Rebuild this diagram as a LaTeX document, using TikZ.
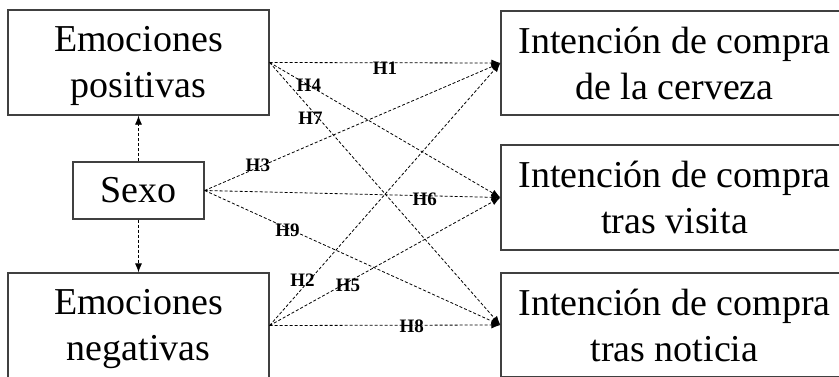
\documentclass[tikz,border=0pt]{standalone}
\usepackage{fontspec}
\setmainfont{Liberation Serif}
\usetikzlibrary{arrows.meta}
\begin{document}
\begin{tikzpicture}[x=1pt,y=-1pt,
  box/.style={draw=black!75, line width=1.3pt, align=center, inner sep=0pt,
    font=\fontsize{38}{46}\selectfont},
  link/.style={dashed, dash pattern=on 3pt off 2pt, line width=0.8pt,
    -{Latex[length=9pt,width=7pt]}},
  hyp/.style={font=\fontsize{19}{19}\bfseries\selectfont, inner sep=0pt}]
\useasboundingbox (0,0) rectangle (839,376);
\clip (0,0) rectangle (839,376);
\fill[white] (0,0) rectangle (839,376);

% predictors
\node[box, minimum width=261pt, minimum height=105pt] (ep) at (138.5,62.5) {\rule{0pt}{33pt}Emociones\\positivas};
\node[box, minimum width=131pt, minimum height=57pt] (sx) at (138.5,190.5) {Sexo};
\node[box, minimum width=261pt, minimum height=105pt] (en) at (138.5,325.5) {\rule{0pt}{33pt}Emociones\\negativas};

% outcomes
\node[box, minimum width=347pt, minimum height=104pt] (b1) at (674.5,63) {Intención de compra\\de la cerveza};
\node[box, minimum width=347pt, minimum height=105pt] (b2) at (674.5,197.5) {Intención de compra\\tras visita};
\node[box, minimum width=347pt, minimum height=104pt] (b3) at (674.5,325) {Intención de compra\\tras noticia};

% sex to emotions
\draw[link] (sx.north) -- (ep.south);
\draw[link] (sx.south) -- (en.north);

% hypotheses
\draw[link] (ep.east) -- node[hyp, pos=0.5, yshift=-5pt] {H1} (b1.west);
\draw[link] (ep.east) -- node[hyp, pos=0.17] {H4} (b2.west);
\draw[link] (ep.east) -- node[hyp, pos=0.177, yshift=-9pt] {H7} (b3.west);
\draw[link] (sx.east) -- node[hyp, pos=0.18, yshift=2pt] {H3} (b1.west);
\draw[link] (sx.east) -- node[hyp, pos=0.744, yshift=-4pt] {H6} (b2.west);
\draw[link] (sx.east) -- node[hyp, pos=0.28, yshift=-2pt] {H9} (b3.west);
\draw[link] (en.east) -- node[hyp, pos=0.142, yshift=8pt] {H2} (b1.west);
\draw[link] (en.east) -- node[hyp, pos=0.34, yshift=-3pt] {H5} (b2.west);
\draw[link] (en.east) -- node[hyp, pos=0.616, yshift=-1pt] {H8} (b3.west);
\end{tikzpicture}
\end{document}
